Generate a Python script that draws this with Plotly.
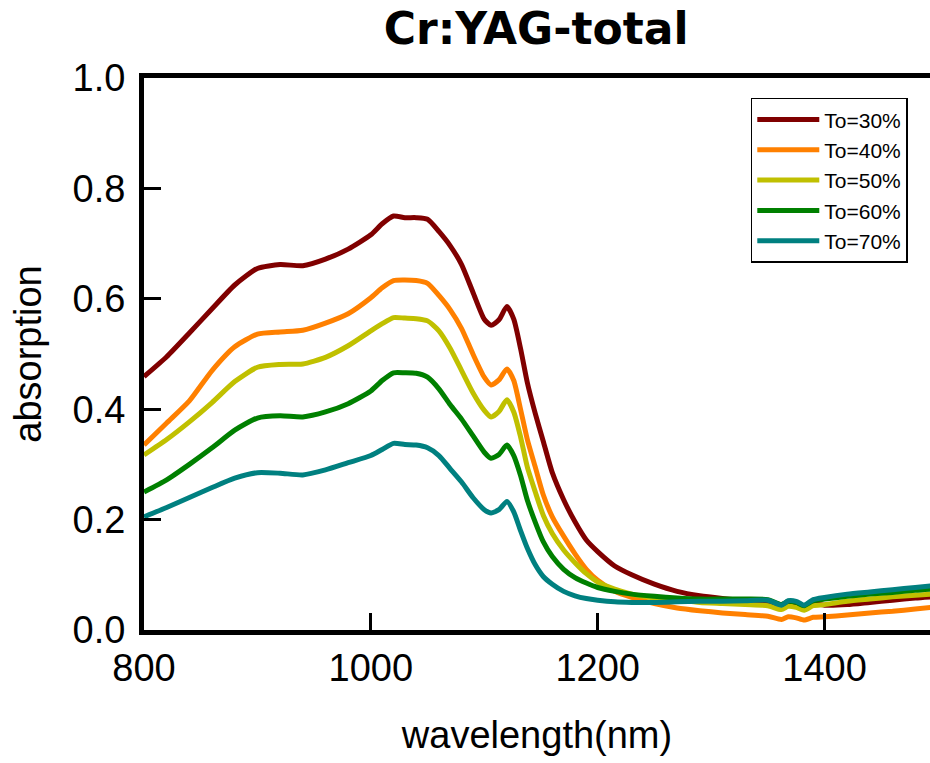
import plotly.graph_objects as go

wavelength = [800, 820, 840, 860, 880, 900, 920, 940, 960, 980, 1000, 1010, 1020, 1030, 1040,
              1050, 1060, 1070, 1080, 1090, 1100, 1106, 1113, 1120, 1126, 1132, 1138, 1145, 1152,
              1160, 1170, 1180, 1190, 1200, 1215, 1230, 1250, 1270, 1290, 1310, 1330, 1350, 1362,
              1368, 1375, 1382, 1390, 1400, 1420, 1440, 1460, 1480, 1500]

to30 = [.459, .495, .538, .582, .625, .655, .662, .660, .672, .690, .716, .736, .750, .747, .747,
        .744, .722, .696, .662, .612, .563, .552, .562, .586, .563, .510, .448, .392, .342,
        .285, .236, .196, .163, .142, .116, .100, .083, .070, .062, .057, .053, .051, .046,
        .050, .049, .043, .048, .045, .046, .050, .054, .058, .061]

to40 = [.335, .375, .415, .470, .513, .536, .540, .543, .556, .573, .602, .620, .633, .634, .633,
        .628, .606, .580, .546, .500, .458, .444, .453, .473, .452, .400, .345, .295, .245,
        .205, .170, .138, .110, .090, .070, .059, .048, .040, .035, .031, .028, .025, .019,
        .024, .022, .018, .023, .024, .027, .031, .034, .038, .042]

to50 = [.317, .345, .377, .412, .450, .476, .481, .482, .494, .515, .542, .555, .566, .565, .564,
        .560, .542, .510, .470, .430, .398, .386, .396, .417, .395, .350, .295, .250, .208,
        .175, .145, .122, .102, .087, .074, .065, .058, .054, .050, .048, .046, .044, .037,
        .043, .041, .036, .044, .046, .052, .056, .060, .063, .066]

to60 = [.250, .272, .300, .330, .362, .384, .388, .386, .395, .410, .433, .452, .466, .466, .465,
        .458, .437, .408, .382, .352, .322, .311, .318, .335, .316, .280, .235, .195, .160,
        .133, .110, .095, .085, .077, .070, .065, .061, .058, .056, .056, .056, .055, .046,
        .052, .050, .044, .053, .056, .061, .065, .068, .072, .075]

to70 = [.205, .222, .240, .258, .275, .285, .284, .281, .290, .303, .316, .327, .338, .336, .335,
        .330, .316, .292, .268, .240, .218, .212, .218, .233, .214, .180, .148, .118, .097,
        .083, .070, .062, .057, .054, .051, .050, .050, .051, .052, .052, .053, .054, .045,
        .053, .052, .045, .055, .059, .065, .069, .073, .077, .081]

series_names = ["To=30%", "To=40%", "To=50%", "To=60%", "To=70%"]
series_values = [to30, to40, to50, to60, to70]
colors = ["#800000", "#ff8000", "#c0c000", "#008000", "#008080"]

x_ticks = [800, 1000, 1200, 1400]
y_ticks = [0.0, 0.2, 0.4, 0.6, 0.8, 1.0]

fig = go.Figure()
for name, vals, col in zip(series_names, series_values, colors):
    fig.add_trace(go.Scatter(x=wavelength, y=vals, name=name, mode="lines",
                             line=dict(color=col, width=5, shape="spline", smoothing=0.6)))

axis_font = dict(family="Liberation Sans, Arial, sans-serif", size=38, color="black")

fig.update_layout(
    width=930, height=763,
    margin=dict(l=144, r=0, t=78, b=133, autoexpand=False),
    paper_bgcolor="white", plot_bgcolor="white",
    title=dict(text="<b>Cr:YAG-total</b>", x=0.5765, xanchor="center", y=0.962, yanchor="middle",
               font=dict(family="DejaVu Sans, sans-serif", size=44, color="black")),
    font=axis_font,
    xaxis=dict(range=[800, 1493], tickvals=x_ticks, ticks="inside", ticklen=17, tickwidth=2.5,
               tickcolor="black", showline=True, linewidth=5, linecolor="black", mirror=True,
               showgrid=False, zeroline=False, tickfont=axis_font, automargin=False,
               title=dict(text="wavelength(nm)", font=axis_font, standoff=35)),
    yaxis=dict(range=[0, 1.0], tickvals=y_ticks, tickformat=".1f", ticks="inside", ticklen=17,
               tickwidth=2.5, tickcolor="black", showline=True, linewidth=5, linecolor="black",
               mirror=False, showgrid=False, zeroline=False, tickfont=axis_font, automargin=False,
               ticklabelstandoff=6,
               title=dict(text="absorption", font=axis_font, standoff=21)),
    legend=dict(x=0.772, y=0.964, xanchor="left", yanchor="top",
                bordercolor="black", borderwidth=1.5, bgcolor="white",
                font=dict(family="Liberation Sans, Arial, sans-serif", size=21, color="black"),
                tracegroupgap=0, itemwidth=62),
)

fig.write_html("out.html", config={"displayModeBar": False},
               post_script="document.body.style.margin='0';document.body.style.overflow='hidden';")
